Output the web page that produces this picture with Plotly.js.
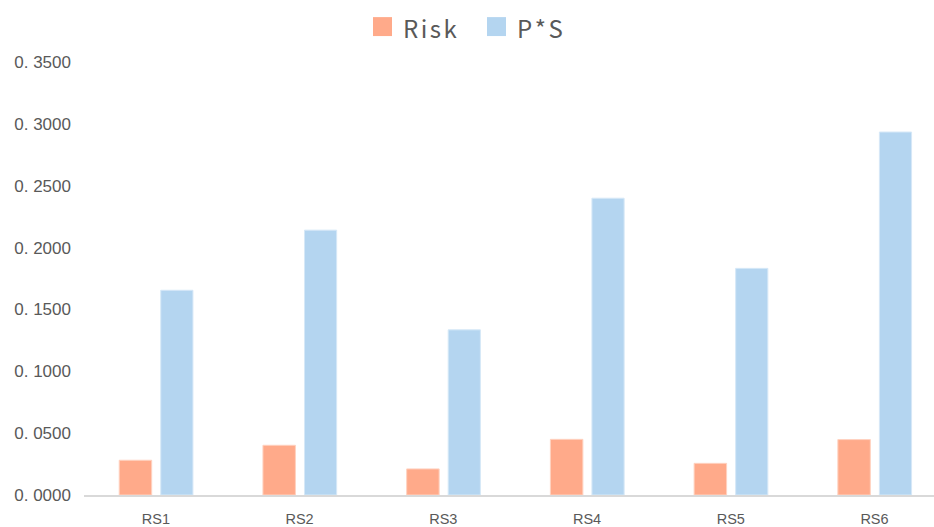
<!DOCTYPE html>
<html>
<head>
<meta charset="utf-8">
<script src="https://cdn.plot.ly/plotly-3.0.1.min.js"></script>
<style>
  html, body { margin: 0; padding: 0; background: #fff; }
  #chart { width: 934px; height: 527px; }
  /* spaced-out legend captions */
  .annotation-text { letter-spacing: 2.5px; }
</style>
</head>
<body>
<div id="chart"></div>
<script>
// Scenario labels
const categories = ['RS1', 'RS2', 'RS3', 'RS4', 'RS5', 'RS6'];
// Series names
const seriesNames = ['Risk', 'P*S'];
// Series values
const riskValues = [0.0281, 0.0402, 0.0211, 0.0450, 0.0256, 0.0448];
const psValues = [0.1655, 0.2141, 0.1335, 0.2399, 0.1832, 0.2934];
// Y axis ticks
const yTickVals = [0, 0.05, 0.10, 0.15, 0.20, 0.25, 0.30, 0.35];
const yTickText = ['0. 0000', '0. 0500', '0. 1000', '0. 1500', '0. 2000', '0. 2500', '0. 3000', '0. 3500'];

const colors = ['#FFAA8A', '#B4D5F0'];
const W = 934, H = 527;
const M = { l: 84, r: 0, t: 61.5, b: 31.5 };

// pixel -> paper helpers for the custom legend row
const px = v => (v - M.l) / (W - M.l - M.r);
const py = v => (H - M.b - v) / (H - M.t - M.b);

const traces = [
  {
    type: 'bar',
    name: seriesNames[0],
    x: categories,
    y: riskValues,
    width: 0.226,
    offset: -0.255,
    marker: { color: colors[0], line: { color: '#FFD2C0', width: 1 } },
    hoverinfo: 'x+y'
  },
  {
    type: 'bar',
    name: seriesNames[1],
    x: categories,
    y: psValues,
    width: 0.224,
    offset: 0.034,
    marker: { color: colors[1], line: { color: '#D6E8F7', width: 1 } },
    hoverinfo: 'x+y'
  }
];

// legend row: square swatch + caption per series
const legendItems = [
  { sx0: 373, sx1: 392, tx: 401 },
  { sx0: 487, sx1: 506, tx: 515 }
];
const shapes = legendItems.map((it, i) => ({
  type: 'rect', xref: 'paper', yref: 'paper',
  x0: px(it.sx0), x1: px(it.sx1), y0: py(35.5), y1: py(16.5),
  fillcolor: colors[i], line: { width: 0 }
}));
const annotations = legendItems.map((it, i) => ({
  xref: 'paper', yref: 'paper',
  x: px(it.tx), y: py(26.5),
  xanchor: 'left', yanchor: 'middle',
  text: seriesNames[i], showarrow: false,
  font: { family: '"Noto Sans CJK SC", "Noto Sans", sans-serif', size: 24, color: '#595959' }
}));

const layout = {
  width: W,
  height: H,
  margin: M,
  paper_bgcolor: '#ffffff',
  plot_bgcolor: '#ffffff',
  barmode: 'group',
  showlegend: false,
  shapes: shapes,
  annotations: annotations,
  xaxis: {
    type: 'category',
    range: [-0.5, 5.414],
    showgrid: false,
    zeroline: false,
    showline: true,
    linecolor: '#D9D9D9',
    linewidth: 1.5,
    ticks: '',
    ticklabelstandoff: 10,
    tickfont: { family: '"Liberation Sans", Arial, sans-serif', size: 14.5, color: '#595959' },
    fixedrange: true
  },
  yaxis: {
    range: [0, 0.35],
    tickvals: yTickVals,
    ticktext: yTickText,
    showgrid: false,
    zeroline: false,
    showline: false,
    ticks: '',
    ticklabelstandoff: 12,
    tickfont: { family: '"Liberation Sans", Arial, sans-serif', size: 17, color: '#595959' },
    fixedrange: true
  }
};

Plotly.newPlot('chart', traces, layout, { displayModeBar: false, staticPlot: true });
</script>
</body>
</html>
